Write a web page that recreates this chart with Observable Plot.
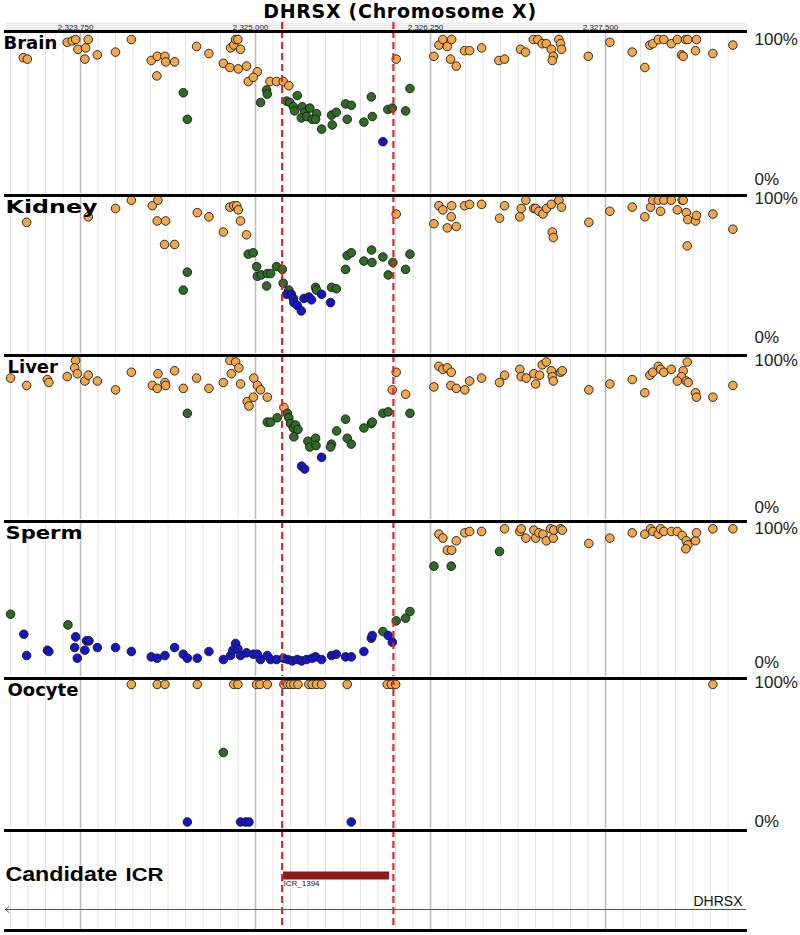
<!DOCTYPE html>
<html><head><meta charset="utf-8">
<script src="https://cdn.jsdelivr.net/npm/d3@7"></script>
<script src="https://cdn.jsdelivr.net/npm/@observablehq/plot@0.6"></script>
<style>
body{margin:0;background:#fff;}
#chart{position:relative;width:800px;height:935px;overflow:hidden;background:#fff;}
#chart svg{position:absolute;left:0;}
#title{position:absolute;top:0px;left:0;width:800px;text-align:center;font:bold 19px "DejaVu Sans",sans-serif;letter-spacing:0.7px;line-height:normal;color:#000;}
</style></head><body>
<div id="chart"><div id="title">DHRSX (Chromosome X)</div></div>
<script>
// ---- scale / annotation data ----
const xDomain = [2323214, 2328500];
const majorTicks = [2323750, 2325000, 2326250, 2327500];
const minorTicks = d3.range(2323250, 2328500, 125);
const icrBounds = [2325190, 2325985];
const icr = {name: "ICR_1394", start: 2325200, end: 2325958};
const gene = {name: "DHRSX", start: 2323214, end: 2328500};
const classes = ["H", "M", "L"];
const classColors = ["#f2a74b", "#2e6b25", "#1515c8"];

// ---- methylation data: [position, % methylated, class] ----
const brain = [
[2323341,87,"H"],[2323370,86,"H"],[2323655,98,"H"],[2323691,99,"H"],[2323715,100,"H"],[2323731,93,"H"],[2323786,94,"H"],[2323805,100,"H"],[2323781,86,"H"],[2323870,89,"H"],[2324000,91,"H"],[2324113,100,"H"],[2324255,85,"H"],[2324298,88,"H"],[2324353,88,"H"],[2324358,84,"H"],[2324422,84,"H"],[2324295,74,"H"],[2324579,95,"H"],[2324667,90,"H"],[2324770,83,"H"],[2324817,80,"H"],[2324877,79,"H"],[2324936,81,"H"],[2324822,94,"H"],[2324845,96,"H"],[2324858,100,"H"],[2324874,100,"H"],[2324893,93,"H"],[2325013,77,"H"],[2324948,70,"H"],[2324984,73,"H"],[2325103,70,"H"],[2325150,70,"H"],[2325198,70,"H"],[2325238,67,"H"],[2326005,86,"H"],
[2326274,88,"H"],[2326310,96,"H"],[2326338,100,"H"],[2326370,95,"H"],[2326401,100,"H"],[2326393,86,"H"],[2326434,81,"H"],[2326493,92,"H"],[2326529,92,"H"],[2326615,94,"H"],[2326738,85,"H"],[2326779,86,"H"],[2326893,93,"H"],[2326929,91,"H"],[2326984,100,"H"],[2327017,100,"H"],[2327048,97,"H"],[2327077,97,"H"],[2327113,93,"H"],[2327127,88,"H"],[2327120,85,"H"],[2327167,100,"H"],[2327179,97,"H"],[2327186,93,"H"],[2327377,88,"H"],[2327531,98,"H"],[2327691,91,"H"],[2327781,80,"H"],[2327817,96,"H"],[2327838,97,"H"],[2327877,100,"H"],[2327917,100,"H"],[2327970,97,"H"],[2328013,100,"H"],[2328043,89,"H"],[2328055,88,"H"],[2328072,100,"H"],[2328088,100,"H"],[2328150,100,"H"],[2328143,92,"H"],[2328267,90,"H"],[2328410,96,"H"],
[2324484,62,"M"],[2324513,43,"M"],[2325036,55,"M"],[2325079,64,"M"],[2325084,61,"M"],[2325222,56,"M"],[2325246,55,"M"],[2325298,60,"M"],[2325270,52,"M"],[2325279,49,"M"],[2325334,52,"M"],[2325351,48,"M"],[2325388,51,"M"],[2325327,44,"M"],[2325365,45,"M"],[2325405,43,"M"],[2325436,47,"M"],[2325429,43,"M"],[2325472,36,"M"],[2325543,46,"M"],[2325577,48,"M"],[2325548,39,"M"],[2325643,54,"M"],[2325684,53,"M"],[2325655,43,"M"],[2325774,41,"M"],[2325827,59,"M"],[2325834,45,"M"],[2325945,50,"M"],[2325977,51,"M"],[2326103,65,"M"],[2326072,49,"M"],
[2325910,27,"L"]
];
const kidney = [
[2323365,83,"H"],[2323805,87,"H"],[2324000,93,"H"],[2324113,99,"H"],[2324263,95,"H"],[2324303,99,"H"],[2324298,84,"H"],[2324358,84,"H"],[2324350,67,"H"],[2324422,67,"H"],[2324584,90,"H"],[2324667,87,"H"],[2324770,76,"H"],[2324817,94,"H"],[2324845,95,"H"],[2324865,95,"H"],[2324877,92,"H"],[2324893,84,"H"],[2324936,74,"H"],[2326005,89,"H"],
[2326274,82,"H"],[2326310,95,"H"],[2326338,92,"H"],[2326370,79,"H"],[2326401,95,"H"],[2326398,87,"H"],[2326434,80,"H"],[2326493,95,"H"],[2326529,96,"H"],[2326615,96,"H"],[2326743,86,"H"],[2326779,95,"H"],[2326888,87,"H"],[2326898,93,"H"],[2326931,99,"H"],[2326988,93,"H"],[2327001,93,"H"],[2327024,91,"H"],[2327053,89,"H"],[2327079,93,"H"],[2327113,96,"H"],[2327120,76,"H"],[2327127,72,"H"],[2327167,99,"H"],[2327186,94,"H"],[2327381,83,"H"],[2327531,91,"H"],[2327691,94,"H"],[2327781,87,"H"],[2327822,94,"H"],[2327838,99,"H"],[2327877,99,"H"],[2327917,99,"H"],[2327893,91,"H"],[2327970,99,"H"],[2328013,92,"H"],[2328048,99,"H"],[2328055,99,"H"],[2328077,90,"H"],[2328088,85,"H"],[2328084,66,"H"],[2328143,84,"H"],[2328150,88,"H"],[2328267,89,"H"],[2328410,78,"H"],
[2324513,47,"M"],[2324484,34,"M"],[2324948,60,"M"],[2324984,61,"M"],[2325008,51,"M"],[2325013,44,"M"],[2325041,45,"M"],[2325084,46,"M"],[2325108,46,"M"],[2325150,51,"M"],[2325191,49,"M"],[2325079,37,"M"],[2325198,39,"M"],[2325238,34,"M"],[2325429,36,"M"],[2325436,34,"M"],[2325543,36,"M"],[2325577,35,"M"],[2325643,49,"M"],[2325655,59,"M"],[2325684,61,"M"],[2325774,55,"M"],[2325829,63,"M"],[2325832,54,"M"],[2325910,58,"M"],[2325948,45,"M"],[2325981,54,"M"],[2326103,60,"M"],[2326072,49,"M"],
[2325222,31,"L"],[2325256,31,"L"],[2325270,28,"L"],[2325274,25,"L"],[2325298,23,"L"],[2325327,19,"L"],[2325346,28,"L"],[2325381,29,"L"],[2325400,27,"L"],[2325472,31,"L"],[2325536,25,"L"]
];
const liver = [
[2323250,88,"H"],[2323365,83,"H"],[2323513,87,"H"],[2323524,85,"H"],[2323655,89,"H"],[2323715,100,"H"],[2323708,95,"H"],[2323727,91,"H"],[2323781,86,"H"],[2323805,90,"H"],[2323870,86,"H"],[2324000,80,"H"],[2324113,92,"H"],[2324263,83,"H"],[2324303,91,"H"],[2324298,81,"H"],[2324353,85,"H"],[2324358,83,"H"],[2324422,93,"H"],[2324484,81,"H"],[2324579,88,"H"],[2324667,81,"H"],[2324770,85,"H"],[2324817,100,"H"],[2324858,99,"H"],[2324881,95,"H"],[2324827,91,"H"],[2324893,84,"H"],[2324988,88,"H"],[2325013,83,"H"],[2325036,80,"H"],[2325084,75,"H"],[2324941,72,"H"],[2324953,69,"H"],[2324985,75,"H"],[2325203,68,"H"],[2326005,92,"H"],[2325977,80,"H"],
[2326072,77,"H"],[2326274,82,"H"],[2326310,96,"H"],[2326338,94,"H"],[2326370,95,"H"],[2326398,92,"H"],[2326395,83,"H"],[2326434,81,"H"],[2326495,80,"H"],[2326529,86,"H"],[2326615,88,"H"],[2326743,85,"H"],[2326779,90,"H"],[2326888,94,"H"],[2326898,89,"H"],[2326934,88,"H"],[2326988,91,"H"],[2327001,84,"H"],[2327029,90,"H"],[2327048,97,"H"],[2327077,99,"H"],[2327113,93,"H"],[2327120,89,"H"],[2327127,86,"H"],[2327179,92,"H"],[2327191,93,"H"],[2327381,80,"H"],[2327531,84,"H"],[2327691,87,"H"],[2327781,78,"H"],[2327817,90,"H"],[2327838,92,"H"],[2327877,96,"H"],[2327893,94,"H"],[2327917,92,"H"],[2327970,94,"H"],[2328055,93,"H"],[2328043,89,"H"],[2328013,86,"H"],[2328077,86,"H"],[2328091,85,"H"],[2328084,99,"H"],[2328143,78,"H"],[2328150,75,"H"],[2328267,75,"H"],[2328410,83,"H"],
[2324513,64,"M"],[2325084,58,"M"],[2325108,58,"M"],[2325155,61,"M"],[2325227,64,"M"],[2325238,61,"M"],[2325250,57,"M"],[2325270,54,"M"],[2325286,56,"M"],[2325303,53,"M"],[2325274,48,"M"],[2325374,45,"M"],[2325388,41,"M"],[2325429,47,"M"],[2325432,42,"M"],[2325543,43,"M"],[2325536,41,"M"],[2325579,52,"M"],[2325643,60,"M"],[2325655,47,"M"],[2325684,43,"M"],[2325774,54,"M"],[2325827,57,"M"],[2325834,58,"M"],[2325910,64,"M"],[2325948,65,"M"],[2326103,64,"M"],
[2325329,28,"L"],[2325351,26,"L"],[2325472,34,"L"]
];
const sperm = [
[2323250,36,"M"],[2323660,28,"M"],[2325910,23,"M"],[2326005,31,"M"],[2326072,33,"M"],[2326103,38,"M"],[2326274,72,"M"],[2326398,72,"M"],[2326743,83,"M"],
[2323345,21,"L"],[2323365,5,"L"],[2323513,9,"L"],[2323524,8,"L"],[2323715,19,"L"],[2323708,11,"L"],[2323727,3,"L"],[2323781,9,"L"],[2323793,16,"L"],[2323810,16,"L"],[2323870,11,"L"],[2324000,11,"L"],[2324113,8,"L"],[2324255,4,"L"],[2324298,3,"L"],[2324353,5,"L"],[2324422,11,"L"],[2324484,6,"L"],[2324513,3,"L"],[2324584,3,"L"],[2324667,8,"L"],[2324770,2,"L"],[2324822,5,"L"],[2324838,9,"L"],[2324858,14,"L"],[2324874,10,"L"],[2324893,5,"L"],[2324936,7,"L"],[2324984,6,"L"],[2325013,6,"L"],[2325036,2,"L"],[2325084,5,"L"],[2325108,2,"L"],[2325150,2,"L"],[2325198,3,"L"],[2325231,2,"L"],[2325263,1,"L"],[2325298,2,"L"],[2325329,1,"L"],[2325365,2,"L"],[2325405,3,"L"],[2325429,4,"L"],[2325472,2,"L"],[2325543,5,"L"],[2325577,6,"L"],[2325643,4,"L"],[2325684,4,"L"],[2325774,8,"L"],[2325827,18,"L"],[2325834,20,"L"],[2325948,20,"L"],[2325977,15,"L"],
[2326310,96,"H"],[2326338,93,"H"],[2326370,84,"H"],[2326401,84,"H"],[2326434,91,"H"],[2326495,97,"H"],[2326529,98,"H"],[2326615,98,"H"],[2326779,100,"H"],[2326888,98,"H"],[2326898,100,"H"],[2326931,93,"H"],[2326988,99,"H"],[2327001,93,"H"],[2327024,97,"H"],[2327053,96,"H"],[2327077,91,"H"],[2327108,100,"H"],[2327127,93,"H"],[2327130,99,"H"],[2327179,100,"H"],[2327191,99,"H"],[2327381,89,"H"],[2327531,93,"H"],[2327691,97,"H"],[2327781,96,"H"],[2327822,100,"H"],[2327838,98,"H"],[2327877,96,"H"],[2327893,100,"H"],[2327917,98,"H"],[2327970,98,"H"],[2328013,98,"H"],[2328048,95,"H"],[2328077,91,"H"],[2328088,88,"H"],[2328074,85,"H"],[2328143,91,"H"],[2328150,97,"H"],[2328267,100,"H"],[2328410,100,"H"]
];
const oocyte = [
[2324113,99,"H"],[2324298,99,"H"],[2324353,99,"H"],[2324584,99,"H"],[2324845,99,"H"],[2324874,99,"H"],[2325008,99,"H"],[2325031,99,"H"],[2325084,99,"H"],[2325203,99,"H"],[2325231,99,"H"],[2325250,99,"H"],[2325274,99,"H"],[2325303,99,"H"],[2325381,99,"H"],[2325405,99,"H"],[2325436,99,"H"],[2325472,99,"H"],[2325655,99,"H"],[2325941,99,"H"],[2325970,99,"H"],[2326001,99,"H"],[2328267,99,"H"],
[2324770,50,"M"],
[2324513,0,"L"],[2324893,0,"L"],[2324929,0,"L"],[2324953,0,"L"],[2325684,0,"L"]
];

// ---- drawing ----
const chart = document.getElementById("chart");
const FONT = "Liberation Sans, Arial, sans-serif";
const gridMarks = () => [
  Plot.ruleX(minorTicks, {x: d => d, stroke: "#e4e4e4", strokeWidth: 1}),
  Plot.ruleX(majorTicks, {x: d => d, stroke: "#bdbdbd", strokeWidth: 1.6})
];
const dashMarks = () => Plot.ruleX(icrBounds, {x: d => d, stroke: "#e3262e", strokeWidth: 2.2, strokeDasharray: "7,4"});
function stretch(svg, label, len) {
  d3.select(svg).selectAll("text").filter(function () { return this.textContent === label; })
    .attr("textLength", len).attr("lengthAdjust", "spacingAndGlyphs");
}
function place(svg, top) { svg.style.top = top + "px"; chart.appendChild(svg); }

// top axis strip
{
  const svg = Plot.plot({
    width: 800, height: 17, marginLeft: 5, marginRight: 55, marginTop: 8, marginBottom: 1,
    style: {background: "transparent", fontFamily: FONT, overflow: "visible"},
    x: {domain: xDomain, axis: null},
    marks: [
      Plot.frame({fill: "#eeeeee", stroke: null}),
      dashMarks(),
      Plot.text(majorTicks, {x: d => d, text: d => d3.format(",")(d), frameAnchor: "bottom", lineAnchor: "bottom", dx: -5, dy: -0.5, fontSize: 8, fill: "#222"})
    ]
  });
  place(svg, 14);
}

const panels = [
  {label: "Brain",  data: brain,  top: 31,  next: 195, y100: 39,    y0: 179,   dx: -2, len: null},
  {label: "Kidney", data: kidney, top: 195, next: 355, y100: 198.3, y0: 336.7, dx: 0,  len: 92},
  {label: "Liver",  data: liver,  top: 355, next: 521, y100: 360,   y0: 506.7, dx: 2,  len: null},
  {label: "Sperm",  data: sperm,  top: 521, next: 678, y100: 528.3, y0: 661.7, dx: 0,  len: 77},
  {label: "Oocyte", data: oocyte, top: 678, next: 830, y100: 682.5, y0: 821.5, dx: 2,  len: null}
];

for (const p of panels) {
  const t = p.top - 2;
  const svg = Plot.plot({
    width: 800, height: p.next - p.top, marginLeft: 5, marginRight: 55, marginTop: 2, marginBottom: 0,
    style: {background: "transparent", fontFamily: FONT, overflow: "visible"},
    x: {domain: xDomain, axis: null},
    y: {domain: [0, 100], range: [p.y0 - t, p.y100 - t], axis: null},
    color: {type: "ordinal", domain: classes, range: classColors},
    marks: [
      ...gridMarks(),
      Plot.dot(p.data, {x: d => d[0], y: d => d[1], fill: d => d[2], r: 4.3, stroke: "#1a1a1a", strokeWidth: 0.9}),
      dashMarks(),
      Plot.frame({anchor: "top", stroke: "#000", strokeWidth: 3}),
      Plot.text([p.label], {text: d => d, frameAnchor: "top-left", lineAnchor: "top", textAnchor: "start", dx: p.dx, dy: 4.5, fontSize: 18, fontWeight: "bold", fontFamily: "DejaVu Sans, sans-serif", fill: "#000"}),
      Plot.text([0, 100], {y: d => d, text: d => d + "%", frameAnchor: "right", textAnchor: "start", dx: 9, fontSize: 17, fill: "#222"})
    ]
  });
  if (p.len) stretch(svg, p.label, p.len);
  place(svg, t);
}

// candidate ICR track
{
  const svg = Plot.plot({
    width: 800, height: 104, marginLeft: 5, marginRight: 55, marginTop: 2, marginBottom: 2,
    style: {background: "transparent", fontFamily: FONT, overflow: "visible"},
    x: {domain: xDomain, axis: null},
    y: {type: "point", domain: ["ICR", "gene"], range: [47, 81], padding: 0, axis: null},
    marks: [
      ...gridMarks(),
      Plot.ruleY([icr], {y: () => "ICR", x1: "start", x2: "end", stroke: "#8b1c1c", strokeWidth: 8}),
      Plot.text([icr], {x: "start", y: () => "ICR", text: "name", textAnchor: "start", lineAnchor: "top", dy: 5, fontSize: 8, fill: "#222"}),
      Plot.arrow([gene], {x1: "end", x2: "start", y1: () => "gene", y2: () => "gene", stroke: "#555", strokeWidth: 1, headLength: 7, headAngle: 80}),
      Plot.text([gene], {x: "end", y: () => "gene", text: "name", textAnchor: "end", lineAnchor: "bottom", dx: -3, dy: -4, fontSize: 14, fill: "#111"}),
      dashMarks(),
      Plot.frame({anchor: "top", stroke: "#000", strokeWidth: 3}),
      Plot.frame({anchor: "bottom", stroke: "#000", strokeWidth: 3}),
      Plot.text(["Candidate"], {y: () => "ICR", text: d => d, frameAnchor: "left", textAnchor: "start", lineAnchor: "bottom", dy: 5, fontSize: 21, fontWeight: "bold", fill: "#000"}),
      Plot.text(["ICR"], {y: () => "ICR", text: d => d, frameAnchor: "left", textAnchor: "start", lineAnchor: "bottom", dx: 120, dy: 5, fontSize: 17.5, fontWeight: "bold", fill: "#000"})
    ]
  });
  stretch(svg, "Candidate", 112);
  stretch(svg, "ICR", 38);
  place(svg, 828);
}
</script>
</body></html>
